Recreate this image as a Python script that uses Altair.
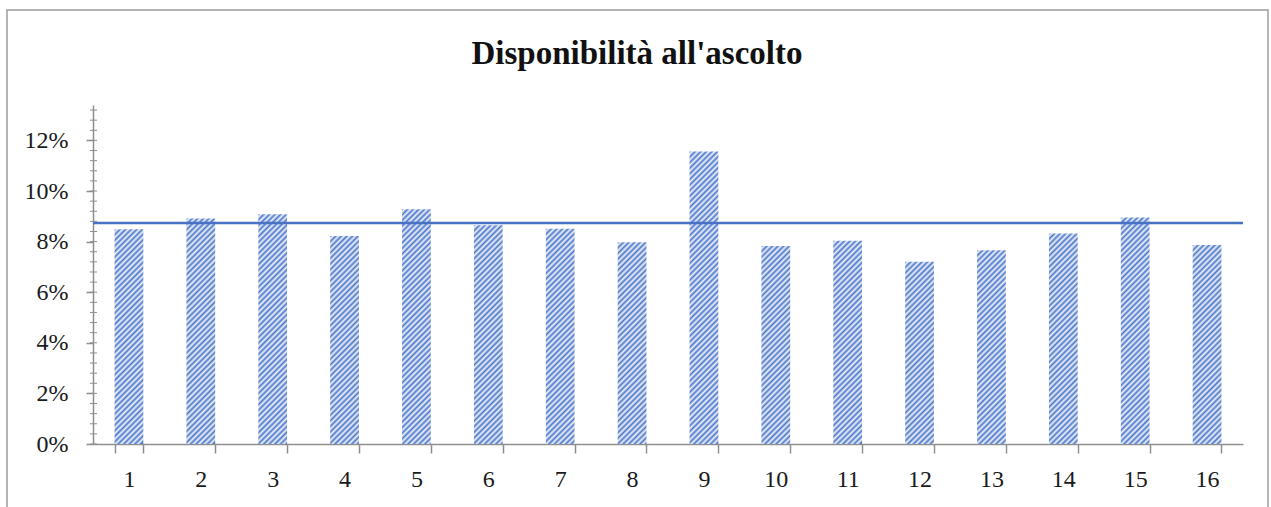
import altair as alt
import pandas as pd

# ---- data ----
categories = [str(i) for i in range(1, 17)]
values = [0.0849, 0.0891, 0.0908, 0.0822, 0.0928, 0.0865, 0.0851, 0.0797,
          0.1156, 0.0783, 0.0803, 0.0720, 0.0766, 0.0832, 0.0895, 0.0787]
reference_line = [0.0874]
y_ticks = [0.0, 0.02, 0.04, 0.06, 0.08, 0.10, 0.12]
minor_ticks = [round(i * 0.004, 4) for i in range(0, 34)]
title_text = "Disponibilità all'ascolto"

# ---- layout / style ----
W, H = 1150, 339
Y_MAX = 0.134
STEP = W / len(categories)
BAR_W = STEP * 0.4
DARK, LIGHT = "#5078cb", "#eef3fc"
PERIOD = 5.6
AXIS_COLOR = "#8f8f8f"
FONT = "Liberation Serif"

df = pd.DataFrame({"cat": categories, "v": values})

x_enc = alt.X("cat:N", scale=alt.Scale(domain=categories, paddingInner=0.6, paddingOuter=0.3),
              axis=alt.Axis(title=None, labelAngle=0, tickBand="extent", tickSize=9,
                            labelPadding=14, labelFont=FONT, labelFontSize=24,
                            labelColor="#1a1a1a", domainColor=AXIS_COLOR, tickColor=AXIS_COLOR,
                            domainWidth=1.5, tickWidth=1.5))
y_scale = alt.Scale(domain=[0, Y_MAX], nice=False)
y_axis = alt.Axis(title=None, values=y_ticks, format=".0%", tickSize=7, labelPadding=18,
                  labelFont=FONT, labelFontSize=24, labelColor="#1a1a1a", grid=False,
                  domainColor=AXIS_COLOR, tickColor=AXIS_COLOR, domainWidth=1.5, tickWidth=1.5)


def hatch(v):
    h = v / Y_MAX * H
    w = BAR_W
    k = (w + h) / (w * w + h * h)
    total = w + h
    n = int(total / (PERIOD / 2))
    stops = []
    for j in range(n + 1):
        off = min(1.0, j * (PERIOD / 2) / total)
        stops.append(alt.GradientStop(offset=round(off, 5), color=DARK if j % 2 == 0 else LIGHT))
    return alt.LinearGradient(gradient="linear", stops=stops, x1=0, y1=0,
                              x2=round(k * w, 5), y2=round(k * h, 5))


frame = alt.Chart(pd.DataFrame({"a": [0]})).mark_rect(
    filled=False, stroke="#9c9c9c", strokeWidth=1.5
).encode(x=alt.value(-86), x2=alt.value(1175), y=alt.value(-95), y2=alt.value(420))

base = alt.Chart(df).encode(x=x_enc, y=alt.Y("v:Q", scale=y_scale, axis=y_axis))
bars = [base.transform_filter(alt.datum.cat == c).mark_bar(fill=hatch(v))
        for c, v in zip(categories, values)]

line = alt.Chart(pd.DataFrame({"v": reference_line})).mark_rule(
    color="#4a72c4", strokeWidth=2.5
).encode(y=alt.Y("v:Q", scale=y_scale, axis=y_axis))

minor = alt.Chart(pd.DataFrame({"v": minor_ticks})).mark_rule(
    color=AXIS_COLOR, strokeWidth=1
).encode(y=alt.Y("v:Q", scale=y_scale, axis=y_axis), x=alt.value(-3), x2=alt.value(4))

chart = alt.layer(frame, *bars, line, minor).properties(
    width=W, height=H,
    title=alt.TitleParams(title_text, font=FONT, fontSize=33, fontWeight="bold",
                          color="#111111", anchor="middle", dx=-31, offset=-88,
                          baseline="alphabetic"),
    autosize=alt.AutoSizeParams(type="none"),
    padding={"left": 93, "top": 105, "right": 28, "bottom": 63},
).configure(background="white").configure_view(stroke="transparent", strokeWidth=0)

chart.save("out.html", embed_options={"renderer": "svg", "actions": False})
